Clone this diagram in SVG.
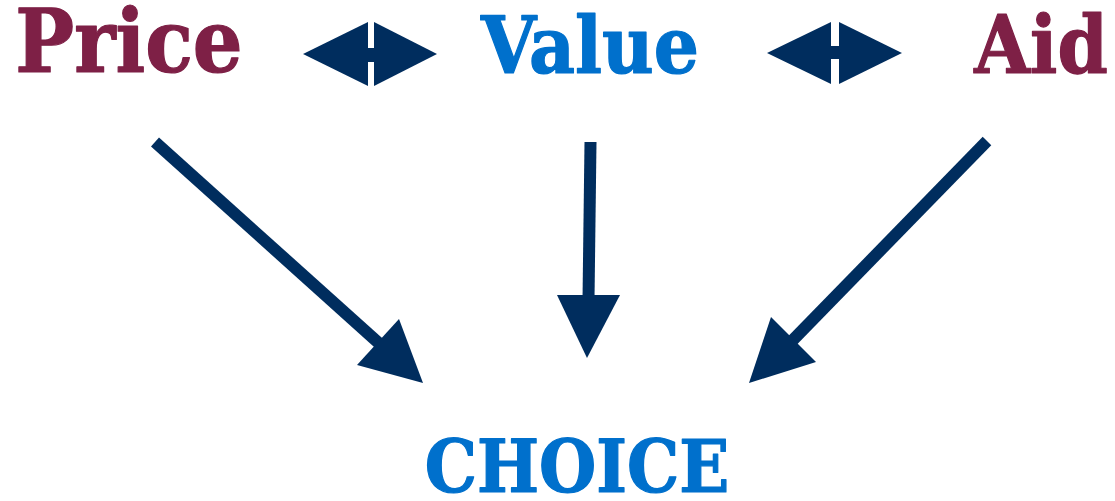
<svg xmlns="http://www.w3.org/2000/svg" width="1115" height="501" viewBox="0 0 1115 501">
  <style>
    .lbl { font-family: "DejaVu Serif Condensed", "DejaVu Serif", "Liberation Serif", serif; font-weight: bold; font-stretch: condensed; text-anchor: middle; stroke-width: 1.2; stroke-linejoin: round; }
    .maroon { fill: #7e2046; stroke: #7e2046; }
    .blue { fill: #0070cc; stroke: #0070cc; }
    .shaft { stroke: #002d5e; stroke-width: 12; fill: none; }
    .head { fill: #002d5e; }
  </style>
  <rect width="1115" height="501" fill="#ffffff"/>

  <g id="price"><text class="lbl maroon" x="129" y="72" font-size="87">Price</text></g>
  <g id="value"><text class="lbl blue" x="590" y="73" font-size="79">Value</text></g>
  <g id="aid"><text class="lbl maroon" x="1041" y="73" font-size="80">Aid</text></g>
  <g id="choice"><text class="lbl blue" x="577" y="492" font-size="73">CHOICE</text></g>

  <g id="connectors">
    <!-- two-way links between the top labels -->
    <g id="price-value">
      <polygon class="head" points="303,54 368,22 368,86"/>
      <polygon class="head" points="374,22 374,86 437,54"/>
      <rect class="head" x="366" y="48" width="10" height="14"/>
    </g>
    <g id="value-aid">
      <polygon class="head" points="767,53 831,22 831,84"/>
      <polygon class="head" points="839,22 839,84 902,53"/>
      <rect class="head" x="829" y="46" width="12" height="13"/>
    </g>
    <!-- arrows into CHOICE -->
    <g id="price-choice">
      <line class="shaft" x1="155" y1="142" x2="382" y2="346"/>
      <polygon class="head" points="423,383 399,319 357,365"/>
    </g>
    <g id="value-choice">
      <line class="shaft" x1="590.5" y1="142" x2="588.5" y2="300" stroke-width="13"/>
      <polygon class="head" points="557,295 620,295 587,358"/>
    </g>
    <g id="aid-choice">
      <line class="shaft" x1="987" y1="141" x2="790" y2="343"/>
      <polygon class="head" points="749,383 771,317 816,362"/>
    </g>
  </g>
</svg>
